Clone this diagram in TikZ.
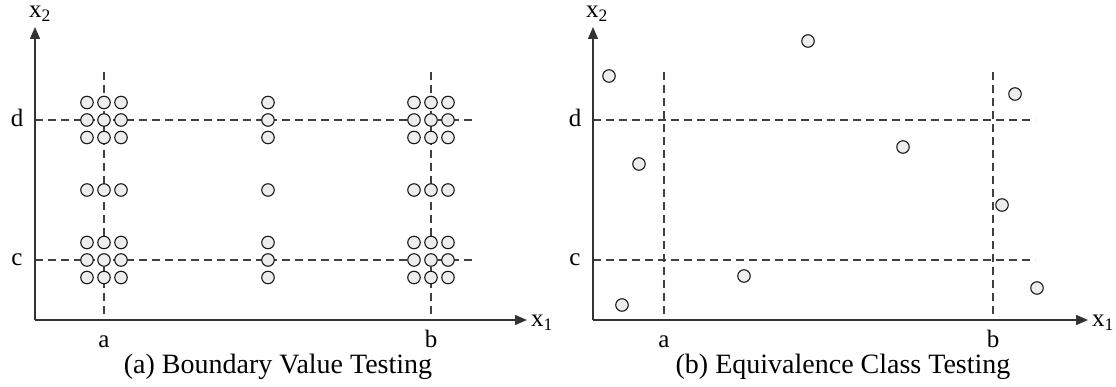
\documentclass[tikz,border=0pt]{standalone}
\usepackage{fontspec}
\setmainfont{Liberation Serif}
\usetikzlibrary{arrows.meta}
\begin{document}
\begin{tikzpicture}[x=1pt,y=-1pt,
  pt/.style={circle,draw=black!90,fill=black!7,line width=1.1pt,minimum size=12.5pt,inner sep=0pt},
  axis/.style={line width=1.4pt,draw=black!80,-{Triangle[length=12pt,width=10pt]}},
  guide/.style={line width=1.2pt,draw=black!75,dash pattern=on 8pt off 5pt},
  lbl/.style={font=\fontsize{25}{25}\selectfont,inner sep=0pt},
  captext/.style={font=\fontsize{28}{28}\selectfont,inner sep=0pt}]
\useasboundingbox (0,0) rectangle (1116,387);
% ---------- panel (a) ----------
\coordinate (ao) at (35,320);
\coordinate (ay) at (35,27);
\coordinate (ax) at (527,320);
\coordinate (aat) at (104,72); \coordinate (aab) at (104,320);
\coordinate (abt) at (431,72); \coordinate (abb) at (431,320);
\coordinate (adl) at (35,120); \coordinate (adr) at (476,120);
\coordinate (acl) at (35,260); \coordinate (acr) at (476,260);
\draw[guide] (aat) -- (aab);
\draw[guide] (abt) -- (abb);
\draw[guide] (adl) -- (adr);
\draw[guide] (acl) -- (acr);
\draw[axis] (ao) -- (ay);
\draw[axis] (ao) -- (ax);
\node[lbl] (ax2) at (40,14) {x\textsubscript{2}};
\node[lbl,anchor=west] (ax1) at (531,323) {x\textsubscript{1}};
\node[lbl] (ald) at (17,118) {d};
\node[lbl] (alc) at (17,260) {c};
\node[lbl] (ala) at (104,342) {a};
\node[lbl] (alb) at (431,339) {b};
% 3x3 clusters
\foreach \cx/\cn in {104/A,431/B}{
  \foreach \cy/\rn in {120/D,260/C}{
    \foreach \dx/\i in {-17/1,0/2,17/3}{
      \foreach \dy/\j in {-17.5/1,0/2,17.5/3}{
        \node[pt] (p\cn\rn\i\j) at (\cx+\dx,\cy+\dy) {};
      }
    }
  }
  \foreach \dx/\i in {-17/1,0/2,17/3}{
    \node[pt] (m\cn\i) at (\cx+\dx,190) {};
  }
}
\foreach \cy/\rn in {120/D,260/C}{
  \foreach \dy/\j in {-17.5/1,0/2,17.5/3}{
    \node[pt] (q\rn\j) at (268,\cy+\dy) {};
  }
}
\node[pt] (qM) at (268,190) {};
\node[captext] (capa) at (278,367) {(a) Boundary Value Testing};
% ---------- panel (b) ----------
\coordinate (bo) at (593,320);
\coordinate (by) at (593,27);
\coordinate (bx) at (1088,320);
\coordinate (bat) at (664,72); \coordinate (bab) at (664,320);
\coordinate (bbt) at (993,72); \coordinate (bbb) at (993,320);
\coordinate (bdl) at (593,120); \coordinate (bdr) at (1035,120);
\coordinate (bcl) at (593,260); \coordinate (bcr) at (1035,260);
\draw[guide] (bat) -- (bab);
\draw[guide] (bbt) -- (bbb);
\draw[guide] (bdl) -- (bdr);
\draw[guide] (bcl) -- (bcr);
\draw[axis] (bo) -- (by);
\draw[axis] (bo) -- (bx);
\node[lbl] (bx2) at (597,14) {x\textsubscript{2}};
\node[lbl,anchor=west] (bx1) at (1092,323) {x\textsubscript{1}};
\node[lbl] (bld) at (575,118) {d};
\node[lbl] (blc) at (575,260) {c};
\node[lbl] (bla) at (664,342) {a};
\node[lbl] (blb) at (993,339) {b};
\node[pt] (e1) at (609,76) {};
\node[pt] (e2) at (808,41) {};
\node[pt] (e3) at (1015,94) {};
\node[pt] (e4) at (639,164) {};
\node[pt] (e5) at (903,147) {};
\node[pt] (e6) at (1002,205) {};
\node[pt] (e7) at (744,276) {};
\node[pt] (e8) at (622,305) {};
\node[pt] (e9) at (1037,288) {};
\node[captext] (capb) at (843,367) {(b) Equivalence Class Testing};
\end{tikzpicture}
\end{document}
